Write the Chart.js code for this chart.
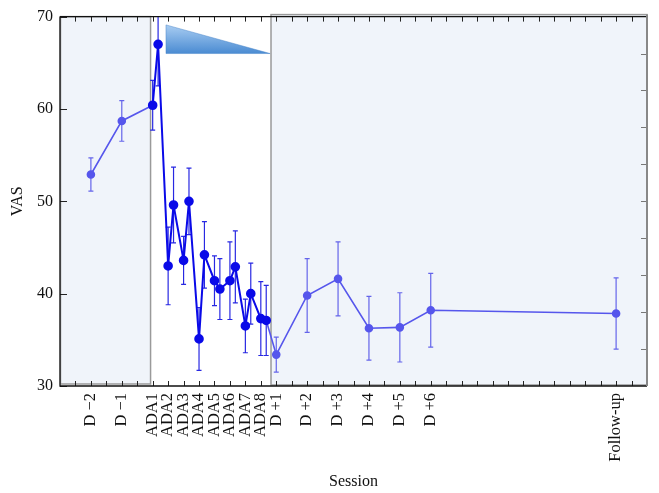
<!DOCTYPE html>
<html>
<head>
<meta charset="utf-8">
<script src="https://cdn.jsdelivr.net/npm/chart.js@4/dist/chart.umd.min.js"></script>
<style>
  html, body { margin: 0; padding: 0; background: #fff; overflow: hidden; }
  #wrap { width: 659px; height: 493px; position: relative; }
</style>
</head>
<body>
<div id="wrap"><canvas id="chart"></canvas></div>
<script>
// Session tick positions and labels (x axis is a session index)
const tickPos = [2, 4, 6, 7, 8, 9, 10, 11, 12, 13, 14, 16, 18, 20, 22, 24, 36];
const tickLabels = ['D \u22122', 'D \u22121', 'ADA1', 'ADA2', 'ADA3', 'ADA4', 'ADA5', 'ADA6', 'ADA7', 'ADA8',
    'D +1', 'D +2', 'D +3', 'D +4', 'D +5', 'D +6', 'Follow-up'];

// Baseline days (leading into first ADA session)
const preX = [2, 4, 6];
const preVas = [52.9, 58.7, 60.4];
const preErr = [1.8, 2.2, 2.7];

// ADA sessions: before / after each session
const adaX = [6, 6.35, 7, 7.35, 8, 8.35, 9, 9.35, 10, 10.35, 11, 11.35, 12, 12.35, 13, 13.35];
const adaVas = [60.4, 67.0, 43.0, 49.6, 43.6, 50.0, 35.1, 44.2, 41.4, 40.5, 41.4, 42.9, 36.5, 40.0, 37.3, 37.1];
const adaErr = [2.7, 4.5, 4.2, 4.1, 2.6, 3.6, 3.4, 3.6, 2.7, 3.3, 4.2, 3.9, 2.9, 3.3, 4.0, 3.8];

// Days after last session and follow-up
const postX = [13.35, 14, 16, 18, 20, 22, 24, 36];
const postVas = [37.1, 33.4, 39.8, 41.6, 36.25, 36.35, 38.2, 37.85];
const postErr = [3.8, 1.9, 4.0, 4.0, 3.45, 3.75, 4.0, 3.85];

const LIGHT = '#5656ec';
const DARK = '#0a0ae8';
const SERIF = '"Liberation Serif", "DejaVu Serif", serif';

function pts(xs, ys) {
    return xs.map((x, i) => ({ x: x, y: ys[i] }));
}

// shaded baseline / follow-up regions and the decreasing wedge
const regionsPlugin = {
    id: 'regions',
    beforeDatasetsDraw(chart) {
        const { ctx, chartArea: a, scales: { x, y } } = chart;
        ctx.save();
        ctx.fillStyle = '#f0f4fa';
        ctx.strokeStyle = '#9a9a9a';
        ctx.lineWidth = 1.5;
        const l1 = x.getPixelForValue(0), r1 = x.getPixelForValue(5.83);
        ctx.fillRect(l1, a.top, r1 - l1, a.bottom - a.top - 2);
        ctx.strokeRect(l1 + 0.5, a.top, r1 - l1, a.bottom - a.top - 2);
        const l2 = x.getPixelForValue(13.66), r2 = x.getPixelForValue(38);
        ctx.fillRect(l2, a.top - 2, r2 - l2, a.bottom - a.top + 1);
        ctx.strokeRect(l2, a.top - 2, r2 - l2, a.bottom - a.top + 1);

        // wedge
        const wx0 = x.getPixelForValue(6.86), wx1 = x.getPixelForValue(13.6);
        const wy0 = y.getPixelForValue(69.1), wy1 = y.getPixelForValue(66.0);
        const g = ctx.createLinearGradient(0, wy0, 0, wy1);
        g.addColorStop(0, '#a9cdf2');
        g.addColorStop(1, '#4a8bd2');
        ctx.fillStyle = g;
        ctx.beginPath();
        ctx.moveTo(wx0, wy0);
        ctx.lineTo(wx1, wy1);
        ctx.lineTo(wx0, wy1);
        ctx.closePath();
        ctx.fill();
        ctx.strokeStyle = 'rgba(70,130,200,0.6)';
        ctx.lineWidth = 0.8;
        ctx.stroke();
        ctx.restore();
    }
};

// vertical error bars with small caps
const errorBarsPlugin = {
    id: 'errorBars',
    beforeDatasetsDraw(chart) {
        const { ctx, chartArea: a, scales: { x, y } } = chart;
        ctx.save();
        ctx.beginPath();
        ctx.rect(a.left, a.top, a.right - a.left, a.bottom - a.top);
        ctx.clip();
        chart.data.datasets.forEach(ds => {
            if (!ds.errors) return;
            ctx.strokeStyle = ds.errorColor;
            ctx.lineWidth = 1.2;
            ds.data.forEach((p, i) => {
                const e = ds.errors[i];
                if (!e || (ds.skipErr && ds.skipErr[i])) return;
                const px = x.getPixelForValue(p.x);
                const top = y.getPixelForValue(p.y + e);
                const bot = y.getPixelForValue(p.y - e);
                ctx.beginPath();
                ctx.moveTo(px, top); ctx.lineTo(px, bot);
                ctx.moveTo(px - 2.5, top); ctx.lineTo(px + 2.5, top);
                ctx.moveTo(px - 2.5, bot); ctx.lineTo(px + 2.5, bot);
                ctx.stroke();
            });
        });
        ctx.restore();
    }
};

// frame with inward minor ticks
const framePlugin = {
    id: 'frame',
    afterDatasetsDraw(chart) {
        const { ctx, chartArea: a, scales: { x, y } } = chart;
        ctx.save();
        ctx.lineWidth = 1;
        ctx.strokeStyle = '#222';
        ctx.beginPath();
        for (let v = 1; v < 38; v++) {
            const px = Math.round(x.getPixelForValue(v)) + 0.5;
            ctx.moveTo(px, a.top); ctx.lineTo(px, a.top + 5);
            ctx.moveTo(px, a.bottom); ctx.lineTo(px, a.bottom - 5);
        }
        for (let v = 30; v <= 70; v += 10) {
            const py = Math.round(y.getPixelForValue(v)) + 0.5;
            ctx.moveTo(a.left, py); ctx.lineTo(a.left + 7, py);
        }
        ctx.stroke();
        ctx.strokeStyle = '#777';
        ctx.beginPath();
        for (let v = 34; v <= 66; v += 4) {
            const py = Math.round(y.getPixelForValue(v)) + 0.5;
            ctx.moveTo(a.right, py); ctx.lineTo(a.right - 6, py);
        }
        ctx.stroke();
        // axes lines
        ctx.lineWidth = 1.3;
        ctx.strokeStyle = '#111';
        ctx.beginPath();
        ctx.moveTo(a.left, a.top); ctx.lineTo(a.left, a.bottom);
        ctx.lineTo(a.right, a.bottom);
        ctx.moveTo(a.left, a.top); ctx.lineTo(a.right, a.top);
        ctx.stroke();
        ctx.strokeStyle = '#888';
        ctx.lineWidth = 2;
        ctx.beginPath();
        ctx.moveTo(a.right, a.top - 2); ctx.lineTo(a.right, a.bottom);
        ctx.stroke();
        ctx.restore();
    }
};

new Chart(document.getElementById('chart'), {
    type: 'line',
    data: {
        datasets: [
            {
                label: 'Baseline',
                data: pts(preX, preVas),
                errors: preErr,
                skipErr: [false, false, true],
                errorColor: '#6464ea',
                borderColor: LIGHT,
                backgroundColor: LIGHT,
                borderWidth: 1.6,
                pointRadius: [3.5, 3.5, 0],
                order: 3
            },
            {
                label: 'After',
                data: pts(postX, postVas),
                errors: postErr,
                skipErr: [true],
                errorColor: '#6464ea',
                borderColor: LIGHT,
                backgroundColor: LIGHT,
                borderWidth: 1.6,
                pointRadius: [0, 3.5, 3.5, 3.5, 3.5, 3.5, 3.5, 3.5],
                order: 2
            },
            {
                label: 'ADA',
                data: pts(adaX, adaVas),
                errors: adaErr,
                errorColor: '#2828e2',
                borderColor: DARK,
                backgroundColor: DARK,
                borderWidth: 2,
                pointRadius: 3.8,
                order: 1
            }
        ]
    },
    options: {
        responsive: true,
        maintainAspectRatio: false,
        animation: false,
        clip: false,
        layout: { padding: { top: 15, right: 12, left: 0, bottom: 0 } },
        plugins: { legend: { display: false }, tooltip: { enabled: false } },
        elements: { line: { tension: 0 }, point: { borderWidth: 0 } },
        scales: {
            x: {
                type: 'linear',
                min: 0,
                max: 38,
                afterBuildTicks: scale => {
                    scale.ticks = tickPos.map(v => ({ value: v }));
                },
                afterFit: scale => { scale.height = 107; },
                grid: { display: false, drawTicks: false },
                border: { display: false },
                ticks: {
                    autoSkip: false,
                    minRotation: 90,
                    maxRotation: 90,
                    padding: 7,
                    color: '#111',
                    font: { family: SERIF, size: 16.5 },
                    callback: (v) => tickLabels[tickPos.indexOf(v)]
                },
                title: {
                    display: true,
                    text: 'Session',
                    color: '#111',
                    font: { family: SERIF, size: 16 },
                    padding: { top: 0, bottom: 2 }
                }
            },
            y: {
                min: 30,
                max: 70,
                afterFit: scale => { scale.width = 60; },
                grid: { display: false, drawTicks: false },
                border: { display: false },
                ticks: {
                    stepSize: 10,
                    padding: 7,
                    color: '#111',
                    font: { family: SERIF, size: 16 }
                },
                title: {
                    display: true,
                    text: 'VAS',
                    color: '#111',
                    font: { family: SERIF, size: 16 },
                    padding: { top: 8, bottom: 0 }
                }
            }
        }
    },
    plugins: [regionsPlugin, errorBarsPlugin, framePlugin]
});
</script>
</body>
</html>
